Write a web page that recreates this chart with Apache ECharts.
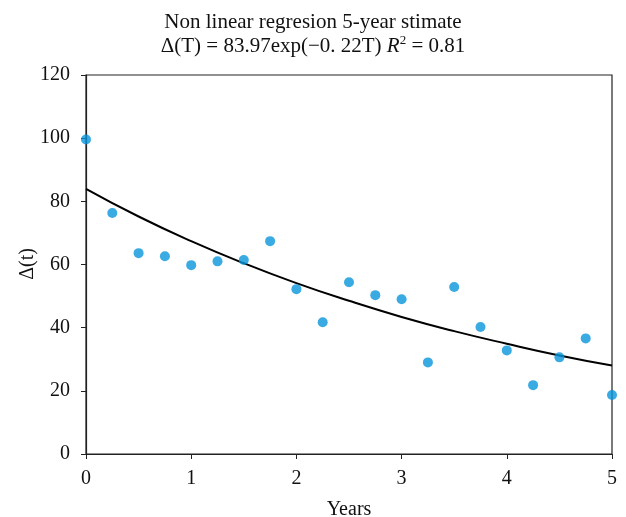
<!DOCTYPE html>
<html>
<head>
<meta charset="utf-8">
<script src="https://cdn.jsdelivr.net/npm/echarts@6/dist/echarts.min.js"></script>
<style>html,body{margin:0;padding:0;background:#fff}#c{width:626px;height:517px}</style>
</head>
<body>
<div id="c"></div>
<script>
var years = [0,0.25,0.5,0.75,1,1.25,1.5,1.75,2,2.25,2.5,2.75,3,3.25,3.5,3.75,4,4.25,4.5,4.75,5];
var observed = [99.6,76.3,63.6,62.6,59.8,61.0,61.4,67.4,52.2,41.7,54.4,50.3,49.0,29.0,52.9,40.2,32.8,21.8,30.6,36.6,18.7];
var fitYears = [0,0.5,1,1.5,2,2.5,3,3.5,4,4.5,5];
var fitValues = [83.97,75.2,67.4,60.4,54.1,48.5,43.4,38.9,34.9,31.2,28.0];
var xTicks = [0,1,2,3,4,5];
var yTicks = [0,20,40,60,80,100,120];
var yTitle = 'Δ(t)';

var font = 'Liberation Serif';
var chart = echarts.init(document.getElementById('c'));
chart.setOption({
  animation: false,
  backgroundColor: '#fff',
  title: {
    left: 'center', top: 5,
    text: 'Non linear regresion 5-year stimate\n{n|Δ(T) = 83.97exp(−0. 22T) }{i|R}{s|2}{n| = 0.81}',
    textStyle: {
      fontFamily: font, fontSize: 21, fontWeight: 'normal', color: '#111', lineHeight: 24,
      rich: {
        n: {fontFamily: font, fontSize: 21, color: '#111', lineHeight: 24},
        i: {fontFamily: font, fontSize: 21, fontStyle: 'italic', color: '#111', lineHeight: 24},
        s: {fontFamily: font, fontSize: 13, color: '#111', verticalAlign: 'top', padding: [0,0,8,0], lineHeight: 24}
      }
    }
  },
  graphic: [{
    type: 'text', x: 28, y: 264, rotation: Math.PI / 2,
    style: {text: yTitle, font: '20px "Liberation Serif"', fill: '#111', align: 'center', verticalAlign: 'middle'}
  }],
  grid: {left: 86, right: 14, top: 75, bottom: 63, outerBoundsMode: 'none', containLabel: false, show: true, borderColor: '#222', borderWidth: 1.2, backgroundColor: 'transparent'},
  xAxis: {
    type: 'value', min: 0, max: 5, interval: 1,
    name: 'Years', nameLocation: 'middle', nameGap: 46,
    nameTextStyle: {fontFamily: font, fontSize: 20, color: '#111'},
    axisLine: {lineStyle: {color: '#222', width: 1.2}},
    axisTick: {show: true, inside: false, length: 5, lineStyle: {color: '#222'}},
    axisLabel: {fontFamily: font, fontSize: 20, color: '#111', margin: 15},
    splitLine: {show: false}
  },
  yAxis: {
    type: 'value', min: 0, max: 120, interval: 20,
    axisLine: {show: true, lineStyle: {color: '#222', width: 1.2}},
    axisTick: {show: true, inside: false, length: 5, lineStyle: {color: '#222'}},
    axisLabel: {fontFamily: font, fontSize: 20, color: '#111', margin: 16},
    splitLine: {show: false}
  },
  series: [
    {
      type: 'line', data: fitYears.map(function(x,i){return [x, fitValues[i]];}),
      smooth: true, showSymbol: false, lineStyle: {color: '#000', width: 2}, z: 2
    },
    {
      type: 'scatter', data: years.map(function(x,i){return [x, observed[i]];}),
      symbolSize: 10, itemStyle: {color: '#0995dc'}, z: 3
    }
  ]
});
</script>
</body>
</html>
